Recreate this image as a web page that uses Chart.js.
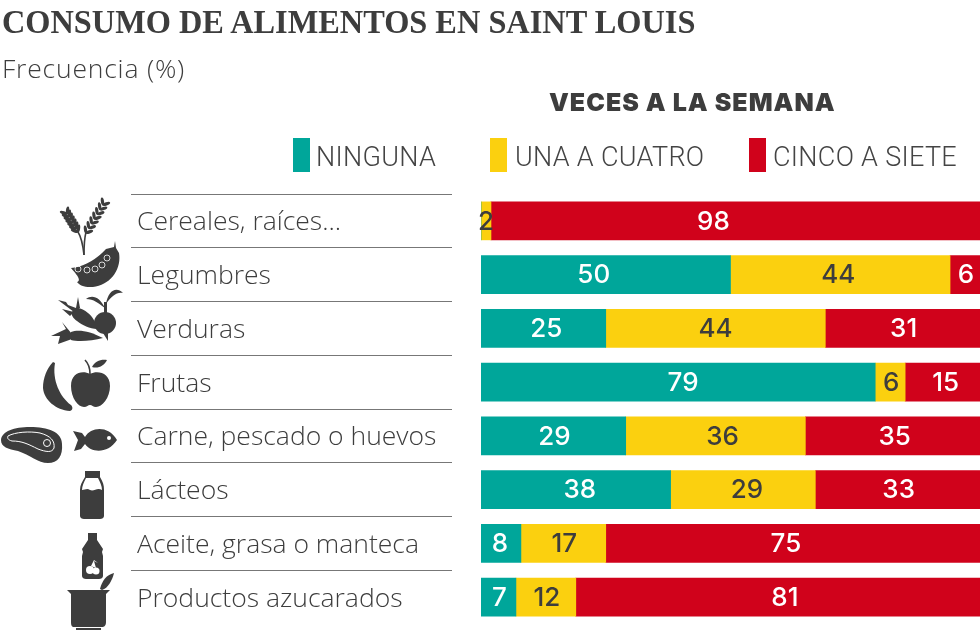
<!DOCTYPE html>
<html>
<head>
<meta charset="utf-8">
<title>Consumo de alimentos en Saint Louis</title>
<style>
  html, body { margin: 0; padding: 0; background: #fff; overflow: hidden; }
  #page { position: relative; width: 980px; height: 642px; color: #444; font-family: Roboto, sans-serif; }
  #page > * { position: absolute; white-space: nowrap; }
  #title { left: 2px; top: 4px; font: bold 33px "Liberation Serif", serif; color: #3d3d3d; transform-origin: 0 0; transform: scaleX(0.98); }
  #subtitle { left: 2px; top: 50px; font: 300 26.5px "Open Sans", sans-serif; letter-spacing: .8px; color: #3d3d3d; }
  #header { left: 549px; top: 87px; font: 900 25px Inter, sans-serif; color: #3d3d3d; letter-spacing: 1px; }
  .swatch { top: 138px; width: 17px; height: 34px; }
  .legend { top: 141px; font-weight: 300; font-size: 27px; letter-spacing: .3px; }
  #box { left: 0; top: 0; width: 980px; height: 642px; }
  #icons { left: 0; top: 0; }
</style>
</head>
<body>
<div id="page">
  <div id="box"><canvas id="chart" width="980" height="642"></canvas></div>
  <div id="title">CONSUMO DE ALIMENTOS EN SAINT LOUIS</div>
  <div id="subtitle">Frecuencia (%)</div>
  <div id="header">VECES A LA SEMANA</div>

  <!-- iconos dibujados a mano -->
  <svg id="icons" width="980" height="642" fill="#3d3d3d">
    <g id="wheat" stroke="#3d3d3d" fill="none" stroke-width="1.6">
      <path d="M84 255 C83 246 82 238 78 232"/>
      <path d="M84 255 C84 246 84 240 86 232"/>
    </g>
    <!-- legumbres -->
    <path d="M71 268 C85 267 98 258 106 249 L114 247 L115 241 L116 248 L119 253 C122 271 108 287 90 287 C84 287 79 285 77 282 C82 280 76 274 71 268 Z"/>
    <g fill="none" stroke="#fff" stroke-width=".8">
      <circle cx="78" cy="269" r="3"/><circle cx="87" cy="270" r="3"/><circle cx="95" cy="269" r="3"/>
      <circle cx="102" cy="265" r="3"/><circle cx="107" cy="258" r="3"/>
    </g>
    <!-- verduras -->
    <circle cx="105" cy="323" r="11"/>
    <path d="M103 333 L108 341 L108 332 Z M104 313 L104 302 L107 302 L107 313 Z"/>
    <path d="M105 308 C100 297 92 294 86 299 C94 299 98 303 105 308 Z M106 304 C108 291 116 286 123 293 C116 292 112 296 106 304 Z"/>
    <path d="M72 312 C75 306 82 308 88 313 C92 316 96 322 97 329 C90 329 82 325 77 321 C73 318 71 315 72 312 Z"/>
    <path d="M74 312 L58 300 L66 302 L68 305 L76 308 L78 297 L80 308 Z M74 312 L62 309 L70 316 Z"/>
    <path d="M71 332 C78 329 90 331 103 338 C92 341 78 342 71 340 Z"/>
    <path d="M72 334 L62 322 L66 329 L51 336 L60 336 L58 344 L72 339 Z"/>
    <!-- frutas -->
    <path d="M53 362 C47 368 43 378 43 388 C44 400 56 410 70 411 C73 410 73 407 71 405 C60 397 52 380 55 363 Z"/>
    <path d="M90 374 C98 370 110 373 110 386 C110 398 102 407 96 407 C93 407 92 405 90 405 C88 405 87 407 84 407 C78 407 71 398 71 386 C71 373 82 370 90 374 Z"/>
    <path d="M85 360 C88 363 90 368 90 374" fill="none" stroke="#3d3d3d" stroke-width="1.6"/>
    <path d="M92 367 C95 361 101 359 107 360 C104 366 98 369 92 367 Z"/>
    <!-- carne -->
    <path d="M1 440 C2 431 14 427 30 427 C48 427 62 432 62 444 C63 456 58 463 48 463 C38 463 30 455 18 451 C8 449 1 447 1 440 Z"/>
    <path d="M8 436 C15 432 30 431 40 433 C51 436 55 441 54 448 C52 453 46 452 38 449 C28 444 22 441 12 441 C8 440 7 438 8 436 Z" fill="none" stroke="#fff" stroke-width="1"/>
    <circle cx="47" cy="443" r="3.5" fill="none" stroke="#fff" stroke-width="1"/>
    <!-- pescado -->
    <path d="M73 431 L82 433 L85 437 C91 427 108 425 117 440 C108 454 91 453 85 444 L81 449 L74 451 L78 440 Z"/>
    <circle cx="109" cy="438" r="2" fill="#fff"/>
    <!-- lacteos -->
    <path d="M85 471 L100 471 L100 477 C103 482 104 485 104 490 L104 516 C104 518 102 519 100 519 L84 519 C82 519 80 518 80 516 L80 490 C80 485 82 482 85 477 Z"/>
    <path d="M86 478 L98 478 C100 482 102 486 102 490 C97 487 94 492 90 490 C87 488 85 490 82 490 C82 486 84 482 86 478 Z" fill="#fff"/>
    <!-- aceite -->
    <path d="M88 533 L97 533 L97 540 L103 549 L102 552 L103 556 L103 576 C103 578 101 579 99 579 L86 579 C84 579 82 578 82 576 L82 556 L83 552 L82 549 L88 540 Z"/>
    <g fill="#fff"><circle cx="90" cy="570" r="4"/><circle cx="96" cy="571" r="3.5"/>
    <path d="M91 566 L94 560 L98 563 L94 561 L96 568 Z"/></g>
    <!-- azucarados -->
    <path d="M67 590 L110 590 L106 594 L106 622 C106 626 104 627 102 627 L74 627 C72 627 71 626 71 622 L71 594 Z"/>
    <rect x="76" y="628" width="25" height="2"/>
    <path d="M100 589 C102 581 106 575 114 573 C112 581 108 588 102 590 Z"/>
  </svg>
</div>

<script src="https://cdn.jsdelivr.net/npm/chart.js"></script>
<script>
  const categories = ['Cereales, raíces...', 'Legumbres', 'Verduras', 'Frutas', 'Carne, pescado o huevos', 'Lácteos', 'Aceite, grasa o manteca', 'Productos azucarados'];
  const ninguna = [0, 50, 25, 79, 29, 38, 8, 7];
  const unaACuatro = [2, 44, 44, 6, 36, 29, 17, 12];
  const cincoASiete = [98, 6, 31, 15, 35, 33, 75, 81];
  const seriesNames = ['NINGUNA', 'UNA A CUATRO', 'CINCO A SIETE'];
  const seriesColors = ['#00a69a', '#fbd00f', '#d0021b'];
  const labelColors = ['#fff', '#3d3d3d', '#fff'];

  // En el original los numeros no van siempre centrados: px respecto al centro del tramo
  const labelNudge = [
    [0, 0, -22],
    [-12, -2, 1],
    [3, 0, 1],
    [5, 1, 3],
    [1, 7, 2],
    [4, 4, 1],
    [-1, 1, -7],
    [1, 1, 7]
  ];

  const page = document.getElementById('page');

  // Leyenda
  const swatchX = [293, 490, 749];
  const textX = [316, 515, 773];
  seriesNames.forEach((name, i) => {
    const sw = document.createElement('div');
    sw.className = 'swatch';
    sw.style.left = swatchX[i] + 'px';
    sw.style.background = seriesColors[i];
    page.appendChild(sw);
    const t = document.createElement('div');
    t.className = 'legend';
    t.style.left = textX[i] + 'px';
    t.textContent = name;
    page.appendChild(t);
  });

  // Espigas de trigo
  const wheat = document.getElementById('wheat');
  function ear(x0, y0, x1, y1) {
    const angle = Math.atan2(y1 - y0, x1 - x0) * 180 / Math.PI;
    for (let k = 0; k < 7; k++) {
      const f = k / 6;
      const x = x0 + (x1 - x0) * f, y = y0 + (y1 - y0) * f;
      [-40, 40].forEach(a => {
        wheat.insertAdjacentHTML('beforeend',
          `<ellipse rx="4" ry="1.6" fill="#3d3d3d" stroke="none" transform="translate(${x} ${y}) rotate(${angle + 180 + a}) translate(3.5 0)"/>`);
      });
    }
  }
  ear(67, 214, 78, 232);
  ear(103, 205, 86, 233);

  // Filetes de las filas
  const rowRules = {
    id: 'rowRules',
    beforeDraw(chart) {
      const y = chart.scales.y, c = chart.ctx;
      const step = y.getPixelForValue(1) - y.getPixelForValue(0);
      c.save();
      c.strokeStyle = '#777';
      c.lineWidth = 1;
      categories.forEach((_, i) => {
        const py = Math.floor(y.getPixelForValue(i) - step / 2) + 0.5;
        c.beginPath();
        c.moveTo(131, py);
        c.lineTo(452, py);
        c.stroke();
      });
      c.restore();
    }
  };

  // Valores dentro de las barras
  const barValues = {
    id: 'barValues',
    afterDatasetsDraw(chart) {
      const c = chart.ctx;
      c.save();
      c.font = '500 26px Inter, sans-serif';
      c.textAlign = 'center';
      c.textBaseline = 'middle';
      chart.data.datasets.forEach((ds, d) => {
        chart.getDatasetMeta(d).data.forEach((bar, i) => {
          if (!ds.data[i]) return;
          c.fillStyle = labelColors[d];
          c.fillText(ds.data[i], (bar.x + bar.base) / 2 + labelNudge[i][d], bar.y + 1);
        });
      });
      c.restore();
    }
  };

  new Chart(document.getElementById('chart').getContext('2d'), {
    type: 'bar',
    data: {
      labels: categories,
      datasets: [ninguna, unaACuatro, cincoASiete].map((values, i) => ({
        label: seriesNames[i],
        data: values,
        backgroundColor: seriesColors[i],
        borderWidth: 0,
        barThickness: 38
      }))
    },
    options: {
      indexAxis: 'y',
      responsive: false,
      animation: false,
      devicePixelRatio: 1,
      layout: { padding: { left: 137, top: 194, right: 0, bottom: 18 } },
      plugins: { legend: { display: false }, tooltip: { enabled: false } },
      scales: {
        x: { stacked: true, min: 0, max: 100, display: false },
        y: {
          stacked: true,
          afterFit(scale) {
            scale.width = 344;
            scale.paddingTop = 0;
            scale.paddingBottom = 0;
          },
          border: { display: false },
          grid: { display: false },
          ticks: {
            crossAlign: 'far',
            color: '#3d3d3d',
            labelOffset: 2,
            font: { family: 'Open Sans', size: 26.5, weight: '300' }
          }
        }
      }
    },
    plugins: [rowRules, barValues]
  });
</script>
</body>
</html>
